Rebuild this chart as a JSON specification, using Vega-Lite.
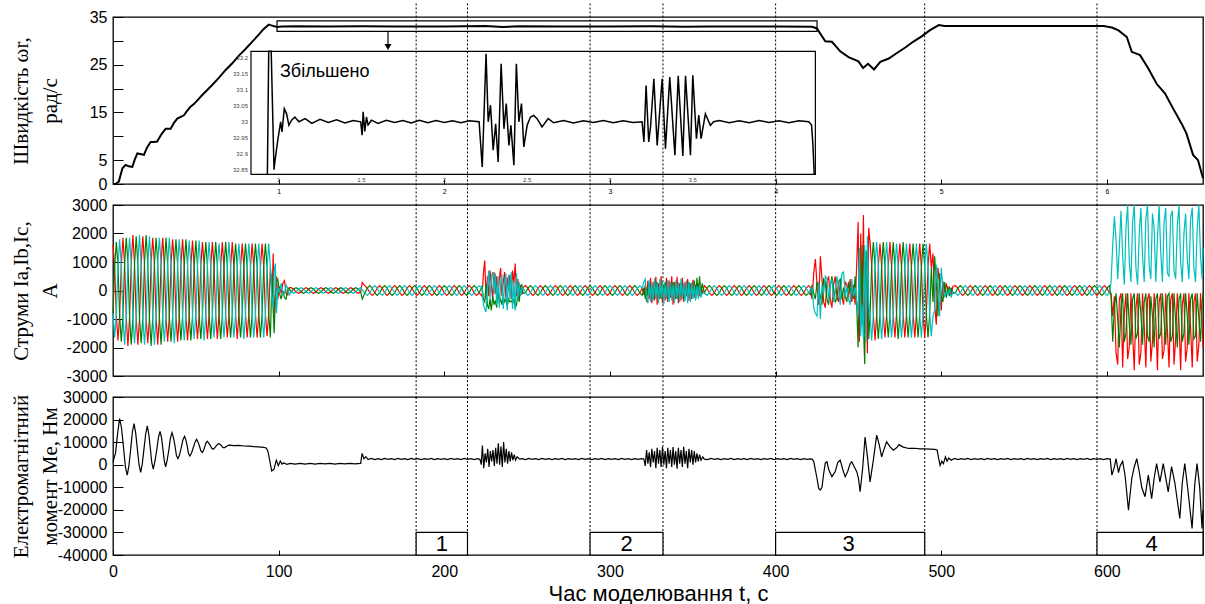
{
"$schema": "https://vega.github.io/schema/vega-lite/v6.json",
"background": "white",
"padding": {"left": 9, "top": 0, "right": 0, "bottom": 0},
"spacing": 21,
"bounds": "flush",
"config": {
  "view": {"stroke": "black", "strokeWidth": 1.3},
  "axis": {"domain": false, "grid": false, "labelOverlap": false, "labelFlush": false, "tickCount": 60, "labelFont": "Liberation Sans", "labelFontSize": 16, "labelColor": "black", "tickColor": "black", "tickWidth": 1, "titleFont": "Liberation Serif", "titleFontSize": 21, "titleFontWeight": "normal", "titleColor": "black"},
  "axisY": {"tickSize": -10, "labelPadding": 16, "titleAngle": -90, "titleX": -103, "titleBaseline": "top", "titleAlign": "center", "titleLineHeight": 29},
  "axisX": {"tickSize": -5, "labelPadding": 13}
},
"datasets": {
  "marks": [{"t":183},{"t":214},{"t":288},{"t":332},{"t":400},{"t":490},{"t":594}],
  "boxes": [{"x1":183,"x2":214,"tm":198.5,"lab":"1"},{"x1":288,"x2":332,"tm":310,"lab":"2"},{"x1":400,"x2":490,"tm":444,"lab":"3"},{"x1":594,"x2":658,"tm":627,"lab":"4"}],
  "insetY": [{"w":33.2,"lab":"33.2"},{"w":33.15,"lab":"33.15"},{"w":33.1,"lab":"33.1"},{"w":33.05,"lab":"33.05"},{"w":33,"lab":"33"},{"w":32.95,"lab":"32.95"},{"w":32.9,"lab":"32.9"},{"w":32.85,"lab":"32.85"}],
  "insetX": [{"t":100,"lab":"1"},{"t":150,"lab":"1.5"},{"t":200,"lab":"2"},{"t":250,"lab":"2.5"},{"t":300,"lab":"3"},{"t":350,"lab":"3.5"},{"t":400,"lab":"4"}],
  "notes": [{"txt":"Збільшено"}],
  "speed": [
    {"t":0,"v":0},{"t":1.5,"v":0},{"t":3.5,"v":0.5},{"t":5.7,"v":3.3},{"t":7.6,"v":4.0},{"t":9.5,"v":3.7},{"t":11.7,"v":3.6},{"t":13,"v":5},{"t":14.7,"v":6.4},{"t":16.5,"v":6.3},{"t":18.7,"v":6.1},{"t":20.5,"v":7.6},{"t":22.7,"v":8.8},{"t":24.5,"v":8.8},{"t":26.7,"v":8.9},{"t":29,"v":10.3},{"t":31.8,"v":11.6},{"t":34.8,"v":11.6},{"t":36.8,"v":12.8},{"t":38.8,"v":13.7},{"t":42.8,"v":14.4},{"t":44.5,"v":15.2},{"t":46.8,"v":16.2},{"t":49,"v":16.8},{"t":51.9,"v":17.9},{"t":54,"v":18.7},{"t":56.9,"v":19.7},{"t":60,"v":20.8},{"t":64,"v":22.3},{"t":68,"v":23.9},{"t":72,"v":25.3},{"t":76,"v":26.9},{"t":80,"v":28.3},{"t":84,"v":29.8},{"t":88,"v":31.3},{"t":91,"v":32.5},{"t":94,"v":33.4},{"t":96,"v":33.2},{"t":99,"v":32.9},{"t":102,"v":33.0},{"t":110,"v":33.05},{"t":130,"v":33.0},{"t":150,"v":33.05},{"t":170,"v":33.0},{"t":200,"v":33.0},{"t":225,"v":33.1},{"t":235,"v":32.9},{"t":245,"v":33.05},{"t":270,"v":33.0},{"t":300,"v":33.0},{"t":325,"v":33.05},{"t":345,"v":32.95},{"t":360,"v":33.0},{"t":400,"v":33.0},{"t":422,"v":32.95},{"t":425,"v":32.6},{"t":427,"v":31.5},{"t":430,"v":29.9},{"t":434,"v":29.8},{"t":439,"v":27.8},{"t":444,"v":26.6},{"t":450,"v":25.7},{"t":452.8,"v":24.3},{"t":455.8,"v":25.2},{"t":459.4,"v":24.0},{"t":463.2,"v":25.6},{"t":468.3,"v":26.3},{"t":473,"v":27.4},{"t":478.3,"v":28.6},{"t":483,"v":29.8},{"t":488.4,"v":31.0},{"t":493,"v":32.2},{"t":498.5,"v":33.3},{"t":502,"v":33.1},{"t":550,"v":33.1},{"t":598,"v":33.1},{"t":603,"v":32.8},{"t":607,"v":32.2},{"t":612,"v":30.8},{"t":615,"v":27.7},{"t":620,"v":27.0},{"t":625,"v":24.2},{"t":630,"v":21.0},{"t":635,"v":19.0},{"t":640,"v":15.8},{"t":645,"v":12.7},{"t":648,"v":10.6},{"t":652,"v":6.1},{"t":655,"v":5.0},{"t":658,"v":1.2}
  ],
  "inset": [
    {"t":93.2,"w":32.836},{"t":94,"w":33.221},{"t":95.5,"w":33.221},{"t":97.2,"w":32.85},{"t":97.6,"w":32.87},{"t":99.6,"w":32.947},{"t":100.4,"w":32.973},{"t":101.2,"w":33.0},{"t":102,"w":32.968},{"t":103.4,"w":33.041},{"t":104.8,"w":33.025},{"t":106.2,"w":32.989},{"t":107.8,"w":33.005},{"t":109.8,"w":33.015},{"t":112.2,"w":33.0},{"t":116,"w":33.01},{"t":120,"w":32.995},{"t":125,"w":33.008},{"t":130,"w":32.998},{"t":135,"w":33.006},{"t":140,"w":32.996},{"t":145,"w":33.004},{"t":149.5,"w":33.0},{"t":150.4,"w":32.958},{"t":151,"w":33.031},{"t":152,"w":32.97},{"t":153,"w":33.015},{"t":154,"w":32.99},{"t":156,"w":33.005},{"t":160,"w":32.995},{"t":165,"w":33.005},{"t":170,"w":32.998},{"t":175,"w":33.004},{"t":180,"w":32.996},{"t":185,"w":33.005},{"t":190,"w":32.997},{"t":195,"w":33.004},{"t":200,"w":32.998},{"t":205,"w":33.003},{"t":210,"w":32.997},{"t":215,"w":33.003},{"t":221,"w":33.0},
    {"t":222.9,"w":32.858},{"t":225.2,"w":33.213},{"t":226.5,"w":33.0},{"t":227.9,"w":33.052},{"t":229.5,"w":32.911},{"t":231,"w":32.994},{"t":232.5,"w":32.874},{"t":234.3,"w":33.182},{"t":236,"w":32.978},{"t":237.4,"w":33.057},{"t":239,"w":32.926},{"t":240.2,"w":32.989},{"t":242,"w":32.864},{"t":243.5,"w":33.182},{"t":245,"w":33.0},{"t":246.6,"w":33.057},{"t":248,"w":32.921},{"t":250,"w":32.989},{"t":252,"w":33.015},{"t":254,"w":33.02},{"t":256,"w":33.01},{"t":259,"w":32.984},{"t":262.7,"w":33.01},{"t":266,"w":32.997},{"t":272,"w":33.004},{"t":278,"w":32.996},{"t":284,"w":33.003},{"t":290,"w":32.998},{"t":296,"w":33.004},{"t":302,"w":32.997},{"t":308,"w":33.003},{"t":314,"w":32.998},{"t":319.4,"w":33.0},
    {"t":320.5,"w":32.937},{"t":321.8,"w":33.114},{"t":323.4,"w":32.937},{"t":324.5,"w":32.984},{"t":326.5,"w":33.135},{"t":328.5,"w":32.926},{"t":331.5,"w":33.135},{"t":333.5,"w":32.916},{"t":336.1,"w":33.14},{"t":339.2,"w":32.895},{"t":341.2,"w":33.144},{"t":344,"w":32.893},{"t":345.6,"w":33.144},{"t":348.6,"w":32.895},{"t":350,"w":33.146},{"t":352.2,"w":32.947},{"t":353.6,"w":33.021},{"t":355,"w":32.947},{"t":357.6,"w":33.025},{"t":360.6,"w":32.989},{"t":362.6,"w":33.0},{"t":366,"w":33.004},{"t":372,"w":32.997},{"t":378,"w":33.003},{"t":384,"w":32.997},{"t":390,"w":33.004},{"t":396,"w":32.998},{"t":402,"w":33.003},{"t":408,"w":32.997},{"t":414,"w":33.003},{"t":420,"w":33.0},{"t":421.7,"w":32.99},{"t":422.5,"w":32.93},{"t":423.3,"w":32.836}
  ],
  "torque": [
    {"t":0,"m":1300},{"t":1.5,"m":5000},{"t":2.8,"m":14000},{"t":4,"m":20400},{"t":5.1,"m":16500},{"t":6.3,"m":8000},{"t":7.5,"m":-1000},{"t":8.6,"m":-4600},{"t":9.6,"m":-500},{"t":10.7,"m":7000},{"t":11.7,"m":14500},{"t":12.7,"m":18200},{"t":13.7,"m":14000},{"t":14.7,"m":7000},{"t":15.7,"m":0},{"t":16.7,"m":-3400},{"t":17.7,"m":500},{"t":18.7,"m":7000},{"t":19.7,"m":13500},{"t":20.7,"m":17200},{"t":21.6,"m":13500},{"t":22.5,"m":7500},{"t":23.4,"m":1000},{"t":24.3,"m":-1900},{"t":25.3,"m":1500},{"t":26.4,"m":6500},{"t":27.4,"m":12000},{"t":28.4,"m":14800},{"t":29.3,"m":12000},{"t":30.1,"m":7000},{"t":31,"m":1500},{"t":31.8,"m":-900},{"t":32.7,"m":2000},{"t":33.7,"m":6500},{"t":34.6,"m":11500},{"t":35.6,"m":14200},{"t":36.5,"m":12000},{"t":37.4,"m":8500},{"t":38.3,"m":4000},{"t":39.2,"m":2700},{"t":40.2,"m":4500},{"t":41.2,"m":7600},{"t":42.2,"m":11000},{"t":43.2,"m":12600},{"t":44,"m":11000},{"t":44.8,"m":8200},{"t":45.6,"m":5000},{"t":46.4,"m":3900},{"t":47.4,"m":5200},{"t":48.5,"m":7600},{"t":49.5,"m":10000},{"t":50.5,"m":11300},{"t":51.3,"m":10000},{"t":52.2,"m":8300},{"t":53,"m":6200},{"t":53.9,"m":5400},{"t":54.6,"m":6200},{"t":55.4,"m":8000},{"t":56.1,"m":9600},{"t":56.9,"m":10400},{"t":57.8,"m":9600},{"t":58.7,"m":8600},{"t":59.6,"m":7300},{"t":60.5,"m":6900},{"t":61.3,"m":7400},{"t":62.2,"m":8200},{"t":63.1,"m":9000},{"t":64,"m":9400},{"t":64.7,"m":9000},{"t":65.5,"m":8400},{"t":66.2,"m":7700},{"t":67,"m":7500},{"t":67.8,"m":7800},{"t":68.7,"m":8200},{"t":69.5,"m":8600},{"t":70.4,"m":8700},{"t":73,"m":8500},{"t":76,"m":8600},{"t":79,"m":8300},{"t":82,"m":8200},{"t":85,"m":8000},{"t":88,"m":7900},{"t":91,"m":7700},{"t":92.5,"m":7400},{"t":93.5,"m":6000},{"t":94.2,"m":3500},{"t":95.8,"m":-2800},{"t":97.2,"m":-2000},{"t":98.6,"m":2000},{"t":99.8,"m":-400},{"t":101,"m":1600},{"t":102,"m":300},{"t":103,"m":800},{"t":105,"m":200},{"t":107,"m":600},{"t":110,"m":300},{"t":113,"m":600},{"t":116,"m":300},{"t":119,"m":600},{"t":122,"m":300},{"t":125,"m":600},{"t":128,"m":350},{"t":131,"m":600},{"t":134,"m":300},{"t":137,"m":600},{"t":140,"m":350},{"t":143,"m":600},{"t":146,"m":350},{"t":149.5,"m":600},{"t":150.4,"m":5000},{"t":151.5,"m":2600},{"t":152.6,"m":3600},{"t":154,"m":2300},{"t":156,"m":2800},{"t":158,"m":2300},{"t":160,"m":2700},{"t":162,"m":2300},{"t":164,"m":2800},{"t":166,"m":2400},{"t":168,"m":2700},{"t":170,"m":2300},{"t":172,"m":2800},{"t":174,"m":2400},{"t":176,"m":2700},{"t":178,"m":2300},{"t":180,"m":2800},{"t":182,"m":2400},{"t":184,"m":2700},{"t":186,"m":2300},{"t":188,"m":2700},{"t":190,"m":2400},{"t":192,"m":2800},{"t":194,"m":2300},{"t":196,"m":2700},{"t":198,"m":2400},{"t":200,"m":2700},{"t":202,"m":2300},{"t":204,"m":2800},{"t":206,"m":2400},{"t":208,"m":2700},{"t":210,"m":2300},{"t":212,"m":2800},{"t":214,"m":2400},{"t":216,"m":2700},{"t":218,"m":2300},{"t":220,"m":2700},{"t":221.5,"m":2400},
    {"t":222.3,"m":0},{"t":223,"m":8500},{"t":223.8,"m":-1500},{"t":224.6,"m":5000},{"t":225.4,"m":1000},{"t":226.2,"m":7000},{"t":227,"m":-1000},{"t":227.8,"m":6000},{"t":228.6,"m":1500},{"t":229.4,"m":6500},{"t":230.2,"m":-500},{"t":231,"m":7500},{"t":231.8,"m":500},{"t":232.6,"m":9500},{"t":233.4,"m":0},{"t":234.2,"m":8000},{"t":235,"m":-1000},{"t":235.8,"m":10000},{"t":236.6,"m":1000},{"t":237.4,"m":7000},{"t":238.2,"m":500},{"t":239,"m":6000},{"t":239.8,"m":1500},{"t":240.6,"m":5500},{"t":241.4,"m":2000},{"t":242.2,"m":4500},{"t":243,"m":2000},{"t":244,"m":3500},{"t":245.5,"m":2500},
    {"t":247,"m":2700},{"t":249,"m":2300},{"t":251,"m":2800},{"t":253,"m":2400},{"t":255,"m":2700},{"t":257,"m":2300},{"t":259,"m":2800},{"t":261,"m":2400},{"t":263,"m":2700},{"t":265,"m":2300},{"t":267,"m":2700},{"t":269,"m":2400},{"t":271,"m":2800},{"t":273,"m":2300},{"t":275,"m":2700},{"t":277,"m":2400},{"t":279,"m":2700},{"t":281,"m":2300},{"t":283,"m":2800},{"t":285,"m":2400},{"t":287,"m":2700},{"t":289,"m":2300},{"t":291,"m":2700},{"t":293,"m":2400},{"t":295,"m":2800},{"t":297,"m":2300},{"t":299,"m":2700},{"t":301,"m":2400},{"t":303,"m":2700},{"t":305,"m":2300},{"t":307,"m":2800},{"t":309,"m":2400},{"t":311,"m":2700},{"t":313,"m":2300},{"t":315,"m":2700},{"t":317,"m":2400},{"t":319,"m":2700},
    {"t":320.5,"m":2500},{"t":321.3,"m":-500},{"t":322.1,"m":6500},{"t":322.9,"m":500},{"t":323.7,"m":5500},{"t":324.5,"m":-1000},{"t":325.3,"m":7000},{"t":326.1,"m":1000},{"t":326.9,"m":6000},{"t":327.7,"m":-1500},{"t":328.5,"m":7500},{"t":329.3,"m":500},{"t":330.1,"m":6500},{"t":330.9,"m":-1000},{"t":331.7,"m":7800},{"t":332.5,"m":0},{"t":333.3,"m":6000},{"t":334.1,"m":-1500},{"t":334.9,"m":7500},{"t":335.7,"m":500},{"t":336.5,"m":6500},{"t":337.3,"m":-1000},{"t":338.1,"m":7800},{"t":338.9,"m":0},{"t":339.7,"m":6000},{"t":340.5,"m":-1800},{"t":341.3,"m":7500},{"t":342.1,"m":500},{"t":342.9,"m":6500},{"t":343.7,"m":-1000},{"t":344.5,"m":7900},{"t":345.3,"m":500},{"t":346.1,"m":6000},{"t":346.9,"m":-1500},{"t":347.7,"m":7000},{"t":348.5,"m":1000},{"t":349.3,"m":6500},{"t":350.1,"m":0},{"t":350.9,"m":6000},{"t":351.7,"m":1000},{"t":352.5,"m":5000},{"t":353.3,"m":1500},{"t":354.1,"m":4500},{"t":355,"m":2000},{"t":356,"m":3500},{"t":357,"m":2500},
    {"t":359,"m":2300},{"t":361,"m":2800},{"t":363,"m":2400},{"t":365,"m":2700},{"t":367,"m":2300},{"t":369,"m":2700},{"t":371,"m":2400},{"t":373,"m":2800},{"t":375,"m":2300},{"t":377,"m":2700},{"t":379,"m":2400},{"t":381,"m":2700},{"t":383,"m":2300},{"t":385,"m":2800},{"t":387,"m":2400},{"t":389,"m":2700},{"t":391,"m":2300},{"t":393,"m":2700},{"t":395,"m":2400},{"t":397,"m":2800},{"t":399,"m":2300},{"t":401,"m":2700},{"t":403,"m":2400},{"t":405,"m":2700},{"t":407,"m":2300},{"t":409,"m":2800},{"t":411,"m":2400},{"t":413,"m":2700},{"t":415,"m":2300},{"t":417,"m":2700},{"t":419,"m":2400},{"t":421,"m":2600},
    {"t":422,"m":2500},{"t":423,"m":1500},{"t":425,"m":-6100},{"t":426,"m":-10500},{"t":427,"m":-11200},{"t":428,"m":-10000},{"t":429,"m":-4000},{"t":430,"m":800},{"t":431,"m":1300},{"t":432,"m":-2000},{"t":434,"m":-5300},{"t":436,"m":-3000},{"t":437.5,"m":1000},{"t":439,"m":2000},{"t":440.5,"m":-2000},{"t":442,"m":-5300},{"t":443.5,"m":-3000},{"t":445,"m":500},{"t":446,"m":1300},{"t":447.5,"m":-1000},{"t":449,"m":-3100},{"t":450,"m":-6000},{"t":451,"m":-12000},{"t":452.5,"m":-2000},{"t":454,"m":12300},{"t":455.5,"m":3000},{"t":457,"m":-7600},{"t":459,"m":2000},{"t":461,"m":13100},{"t":462.5,"m":9000},{"t":464,"m":3500},{"t":465.5,"m":7000},{"t":467,"m":10100},{"t":469,"m":8000},{"t":471,"m":6400},{"t":473,"m":7500},{"t":474.5,"m":8900},{"t":477,"m":7800},{"t":480.4,"m":7200},{"t":484,"m":7300},{"t":487,"m":7000},{"t":490,"m":7000},{"t":493,"m":6900},{"t":496,"m":6800},{"t":497.5,"m":6500},{"t":498.5,"m":2500},{"t":499.3,"m":-300},{"t":500.3,"m":1500},{"t":501.3,"m":500},{"t":502.5,"m":3500},{"t":503.5,"m":1500},{"t":504.5,"m":3000},{"t":506,"m":2000},{"t":508,"m":2800},{"t":510,"m":2300},{"t":512,"m":2700},{"t":514,"m":2400},{"t":516,"m":2800},{"t":518,"m":2300},{"t":520,"m":2700},{"t":522,"m":2400},{"t":524,"m":2700},{"t":526,"m":2300},{"t":528,"m":2800},{"t":530,"m":2400},{"t":532,"m":2700},{"t":534,"m":2300},{"t":536,"m":2700},{"t":538,"m":2400},{"t":540,"m":2800},{"t":542,"m":2300},{"t":544,"m":2700},{"t":546,"m":2400},{"t":548,"m":2700},{"t":550,"m":2300},{"t":552,"m":2800},{"t":554,"m":2400},{"t":556,"m":2700},{"t":558,"m":2300},{"t":560,"m":2700},{"t":562,"m":2400},{"t":564,"m":2800},{"t":566,"m":2300},{"t":568,"m":2700},{"t":570,"m":2400},{"t":572,"m":2700},{"t":574,"m":2300},{"t":576,"m":2800},{"t":578,"m":2400},{"t":580,"m":2700},{"t":582,"m":2300},{"t":584,"m":2700},{"t":586,"m":2400},{"t":588,"m":2800},{"t":590,"m":2300},{"t":592,"m":2700},{"t":594,"m":2400},{"t":596,"m":2700},{"t":598,"m":2300},{"t":600,"m":2700},
    {"t":602,"m":2500},{"t":603,"m":-4600},{"t":604.5,"m":-1000},{"t":605.5,"m":2700},{"t":607,"m":-3500},{"t":608,"m":-500},{"t":609.5,"m":1500},{"t":611,"m":-5000},{"t":613,"m":-20100},{"t":615,"m":-6100},{"t":616.5,"m":-1000},{"t":618,"m":2700},{"t":619.5,"m":-3000},{"t":621,"m":-10000},{"t":623,"m":-14200},{"t":625,"m":-4600},{"t":627,"m":-15000},{"t":628.5,"m":-6000},{"t":630,"m":500},{"t":632,"m":-7600},{"t":634,"m":500},{"t":637,"m":-12000},{"t":639,"m":-900},{"t":641,"m":-8000},{"t":644,"m":-23800},{"t":645.5,"m":-8000},{"t":647,"m":500},{"t":649,"m":-12000},{"t":651.4,"m":-28200},{"t":653,"m":-9000},{"t":654.4,"m":500},{"t":656,"m":-10000},{"t":657.4,"m":-28200},{"t":658,"m":-20000}
  ],
  "cur": [
    {"t":0,"a":1600,"b":-800,"c":-800},{"t":1,"a":825,"b":825,"c":-1650},{"t":2,"a":-850,"b":1700,"c":-850},{"t":3,"a":-1750,"b":875,"c":875},{"t":4,"a":-900,"b":-900,"c":1800},{"t":5,"a":900,"b":-1800,"c":900},
    {"t":6,"a":1850,"b":-925,"c":-925},{"t":7,"a":950,"b":950,"c":-1900},{"t":8,"a":-925,"b":1850,"c":-925},{"t":9,"a":-1950,"b":975,"c":975},{"t":10,"a":-925,"b":-925,"c":1850},{"t":11,"a":950,"b":-1900,"c":950},
    {"t":12,"a":1950,"b":-975,"c":-975},{"t":13,"a":925,"b":925,"c":-1850},{"t":14,"a":-950,"b":1900,"c":-950},{"t":15,"a":-1900,"b":950,"c":950},{"t":16,"a":-975,"b":-975,"c":1950},{"t":17,"a":925,"b":-1850,"c":925},
    {"t":18,"a":1900,"b":-950,"c":-950},{"t":19,"a":950,"b":950,"c":-1900},{"t":20,"a":-975,"b":1950,"c":-975},{"t":21,"a":-1850,"b":925,"c":925},{"t":22,"a":-950,"b":-950,"c":1900},{"t":23,"a":975,"b":-1950,"c":975},
    {"t":24,"a":1850,"b":-925,"c":-925},{"t":25,"a":950,"b":950,"c":-1900},{"t":26,"a":-925,"b":1850,"c":-925},{"t":27,"a":-1900,"b":950,"c":950},{"t":28,"a":-925,"b":-925,"c":1850},{"t":29,"a":950,"b":-1900,"c":950},
    {"t":30,"a":1850,"b":-925,"c":-925},{"t":31,"a":900,"b":900,"c":-1800},{"t":32,"a":-925,"b":1850,"c":-925},{"t":33,"a":-1800,"b":900,"c":900},{"t":34,"a":-925,"b":-925,"c":1850},{"t":35,"a":900,"b":-1800,"c":900},
    {"t":36,"a":1800,"b":-900,"c":-900},{"t":37,"a":925,"b":925,"c":-1850},{"t":38,"a":-900,"b":1800,"c":-900},{"t":39,"a":-1800,"b":900,"c":900},{"t":40,"a":-900,"b":-900,"c":1800},{"t":41,"a":875,"b":-1750,"c":875},
    {"t":42,"a":1800,"b":-900,"c":-900},{"t":43,"a":875,"b":875,"c":-1750},{"t":44,"a":-900,"b":1800,"c":-900},{"t":45,"a":-1750,"b":875,"c":875},{"t":46,"a":-875,"b":-875,"c":1750},{"t":47,"a":875,"b":-1750,"c":875},
    {"t":48,"a":1750,"b":-875,"c":-875},{"t":49,"a":850,"b":850,"c":-1700},{"t":50,"a":-875,"b":1750,"c":-875},{"t":51,"a":-1700,"b":850,"c":850},{"t":52,"a":-875,"b":-875,"c":1750},{"t":53,"a":850,"b":-1700,"c":850},
    {"t":54,"a":1700,"b":-850,"c":-850},{"t":55,"a":875,"b":875,"c":-1750},{"t":56,"a":-850,"b":1700,"c":-850},{"t":57,"a":-1700,"b":850,"c":850},{"t":58,"a":-850,"b":-850,"c":1700},{"t":59,"a":850,"b":-1700,"c":850},
    {"t":60,"a":1700,"b":-850,"c":-850},{"t":61,"a":825,"b":825,"c":-1650},{"t":62,"a":-850,"b":1700,"c":-850},{"t":63,"a":-1700,"b":850,"c":850},{"t":64,"a":-825,"b":-825,"c":1650},{"t":65,"a":850,"b":-1700,"c":850},
    {"t":66,"a":1700,"b":-850,"c":-850},{"t":67,"a":825,"b":825,"c":-1650},{"t":68,"a":-850,"b":1700,"c":-850},{"t":69,"a":-1650,"b":825,"c":825},{"t":70,"a":-850,"b":-850,"c":1700},{"t":71,"a":825,"b":-1650,"c":825},
    {"t":72,"a":1700,"b":-850,"c":-850},{"t":73,"a":825,"b":825,"c":-1650},{"t":74,"a":-825,"b":1650,"c":-825},{"t":75,"a":-1700,"b":850,"c":850},{"t":76,"a":-825,"b":-825,"c":1650},{"t":77,"a":825,"b":-1650,"c":825},
    {"t":78,"a":1650,"b":-825,"c":-825},{"t":79,"a":850,"b":850,"c":-1700},{"t":80,"a":-825,"b":1650,"c":-825},{"t":81,"a":-1650,"b":825,"c":825},{"t":82,"a":-825,"b":-825,"c":1650},{"t":83,"a":825,"b":-1650,"c":825},
    {"t":84,"a":1650,"b":-825,"c":-825},{"t":85,"a":825,"b":825,"c":-1650},{"t":86,"a":-825,"b":1650,"c":-825},{"t":87,"a":-1650,"b":825,"c":825},{"t":88,"a":-825,"b":-825,"c":1650},{"t":89,"a":825,"b":-1650,"c":825},
    {"t":90,"a":1650,"b":-825,"c":-825},{"t":91,"a":825,"b":825,"c":-1650},{"t":92,"a":-825,"b":1650,"c":-825},{"t":93,"a":-1600,"b":800,"c":800},{"t":94,"a":-825,"b":-825,"c":1650},{"t":95,"a":825,"b":-1650,"c":825},
    {"t":96,"a":-200,"b":600,"c":-400},{"t":96.7,"a":1300,"b":-700,"c":-600},{"t":97.3,"a":-900,"b":-1500,"c":700},{"t":98,"a":-300,"b":-200,"c":950},{"t":98.7,"a":500,"b":300,"c":-800},{"t":99.5,"a":-300,"b":400,"c":100},{"t":100.5,"a":150,"b":-100,"c":-50},{"t":101.5,"a":-100,"b":-300,"c":250},{"t":102.5,"a":250,"b":0,"c":-150},{"t":103.5,"a":350,"b":-250,"c":-100},{"t":104.5,"a":-100,"b":-300,"c":200},{"t":105.5,"a":-150,"b":100,"c":50},{"t":106.5,"a":100,"b":50,"c":-150},
    {"t":107.5,"a":100,"b":-50,"c":-50},{"t":109,"a":50,"b":50,"c":-100},{"t":110.5,"a":-50,"b":100,"c":-50},{"t":112,"a":-100,"b":50,"c":50},{"t":113.5,"a":-50,"b":-50,"c":100},{"t":115,"a":50,"b":-100,"c":50},
    {"t":116.5,"a":100,"b":-50,"c":-50},{"t":118,"a":50,"b":50,"c":-100},{"t":119.5,"a":-50,"b":100,"c":-50},{"t":121,"a":-100,"b":50,"c":50},{"t":122.5,"a":-50,"b":-50,"c":100},{"t":124,"a":50,"b":-100,"c":50},
    {"t":125.5,"a":100,"b":-50,"c":-50},{"t":127,"a":50,"b":50,"c":-100},{"t":128.5,"a":-50,"b":100,"c":-50},{"t":130,"a":-100,"b":50,"c":50},{"t":131.5,"a":-50,"b":-50,"c":100},{"t":133,"a":50,"b":-100,"c":50},
    {"t":134.5,"a":100,"b":-50,"c":-50},{"t":136,"a":50,"b":50,"c":-100},{"t":137.5,"a":-50,"b":100,"c":-50},{"t":139,"a":-100,"b":50,"c":50},{"t":140.5,"a":-50,"b":-50,"c":100},{"t":142,"a":50,"b":-100,"c":50},
    {"t":143.5,"a":100,"b":-50,"c":-50},{"t":145,"a":50,"b":50,"c":-100},{"t":146.5,"a":-50,"b":100,"c":-50},{"t":148,"a":-100,"b":50,"c":50},{"t":149.5,"a":-50,"b":-50,"c":100},
    {"t":150.5,"a":280,"b":-300,"c":20},
    {"t":152,"a":170,"b":-85,"c":-85},{"t":153.5,"a":85,"b":85,"c":-170},{"t":155,"a":-85,"b":170,"c":-85},{"t":156.5,"a":-170,"b":85,"c":85},{"t":158,"a":-85,"b":-85,"c":170},{"t":159.5,"a":85,"b":-170,"c":85},
    {"t":161,"a":170,"b":-85,"c":-85},{"t":162.5,"a":85,"b":85,"c":-170},{"t":164,"a":-85,"b":170,"c":-85},{"t":165.5,"a":-170,"b":85,"c":85},{"t":167,"a":-85,"b":-85,"c":170},{"t":168.5,"a":85,"b":-170,"c":85},
    {"t":170,"a":170,"b":-85,"c":-85},{"t":171.5,"a":85,"b":85,"c":-170},{"t":173,"a":-85,"b":170,"c":-85},{"t":174.5,"a":-170,"b":85,"c":85},{"t":176,"a":-85,"b":-85,"c":170},{"t":177.5,"a":85,"b":-170,"c":85},
    {"t":179,"a":170,"b":-85,"c":-85},{"t":180.5,"a":85,"b":85,"c":-170},{"t":182,"a":-85,"b":170,"c":-85},{"t":183.5,"a":-170,"b":85,"c":85},{"t":185,"a":-85,"b":-85,"c":170},{"t":186.5,"a":85,"b":-170,"c":85},
    {"t":188,"a":170,"b":-85,"c":-85},{"t":189.5,"a":85,"b":85,"c":-170},{"t":191,"a":-85,"b":170,"c":-85},{"t":192.5,"a":-170,"b":85,"c":85},{"t":194,"a":-85,"b":-85,"c":170},{"t":195.5,"a":85,"b":-170,"c":85},
    {"t":197,"a":170,"b":-85,"c":-85},{"t":198.5,"a":85,"b":85,"c":-170},{"t":200,"a":-85,"b":170,"c":-85},{"t":201.5,"a":-170,"b":85,"c":85},{"t":203,"a":-85,"b":-85,"c":170},{"t":204.5,"a":85,"b":-170,"c":85},
    {"t":206,"a":170,"b":-85,"c":-85},{"t":207.5,"a":85,"b":85,"c":-170},{"t":209,"a":-85,"b":170,"c":-85},{"t":210.5,"a":-170,"b":85,"c":85},{"t":212,"a":-85,"b":-85,"c":170},{"t":213.5,"a":85,"b":-170,"c":85},
    {"t":215,"a":170,"b":-85,"c":-85},{"t":216.5,"a":85,"b":85,"c":-170},{"t":218,"a":-85,"b":170,"c":-85},{"t":219.5,"a":-170,"b":85,"c":85},{"t":221,"a":-85,"b":-85,"c":170},
    {"t":222.8,"a":-200,"b":150,"c":100},{"t":223.6,"a":600,"b":-300,"c":-500},{"t":224.4,"a":1050,"b":-400,"c":-650},{"t":225.2,"a":-300,"b":200,"c":-750},{"t":226,"a":500,"b":-500,"c":100},{"t":226.8,"a":-200,"b":-650,"c":700},{"t":227.6,"a":700,"b":-300,"c":-300},{"t":228.4,"a":200,"b":-700,"c":500},{"t":229.2,"a":-300,"b":-200,"c":650},{"t":230,"a":650,"b":-500,"c":-150},{"t":230.8,"a":-100,"b":-350,"c":600},{"t":231.6,"a":500,"b":-600,"c":-500},{"t":232.4,"a":-300,"b":100,"c":500},{"t":233.2,"a":400,"b":-450,"c":-600},{"t":234,"a":800,"b":-300,"c":200},{"t":234.8,"a":-200,"b":-500,"c":550},{"t":235.6,"a":300,"b":-200,"c":-650},{"t":236.4,"a":650,"b":-400,"c":300},{"t":237.2,"a":-250,"b":-300,"c":600},{"t":238,"a":450,"b":-550,"c":-700},{"t":238.8,"a":0,"b":-300,"c":550},{"t":239.6,"a":550,"b":-400,"c":-300},{"t":240.4,"a":-300,"b":-350,"c":650},{"t":241.2,"a":700,"b":-450,"c":-650},{"t":242,"a":250,"b":-300,"c":350},{"t":242.8,"a":950,"b":-600,"c":-700},{"t":243.6,"a":-200,"b":-500,"c":600},{"t":244.4,"a":400,"b":-100,"c":-300},{"t":245.2,"a":-150,"b":-400,"c":300},{"t":246,"a":200,"b":150,"c":-200},{"t":246.8,"a":-150,"b":200,"c":50},{"t":247.5,"a":100,"b":-100,"c":100},
    {"t":249,"a":170,"b":-85,"c":-85},{"t":250.5,"a":85,"b":85,"c":-170},{"t":252,"a":-85,"b":170,"c":-85},{"t":253.5,"a":-170,"b":85,"c":85},{"t":255,"a":-85,"b":-85,"c":170},{"t":256.5,"a":85,"b":-170,"c":85},
    {"t":258,"a":170,"b":-85,"c":-85},{"t":259.5,"a":85,"b":85,"c":-170},{"t":261,"a":-85,"b":170,"c":-85},{"t":262.5,"a":-170,"b":85,"c":85},{"t":264,"a":-85,"b":-85,"c":170},{"t":265.5,"a":85,"b":-170,"c":85},
    {"t":267,"a":170,"b":-85,"c":-85},{"t":268.5,"a":85,"b":85,"c":-170},{"t":270,"a":-85,"b":170,"c":-85},{"t":271.5,"a":-170,"b":85,"c":85},{"t":273,"a":-85,"b":-85,"c":170},{"t":274.5,"a":85,"b":-170,"c":85},
    {"t":276,"a":170,"b":-85,"c":-85},{"t":277.5,"a":85,"b":85,"c":-170},{"t":279,"a":-85,"b":170,"c":-85},{"t":280.5,"a":-170,"b":85,"c":85},{"t":282,"a":-85,"b":-85,"c":170},{"t":283.5,"a":85,"b":-170,"c":85},
    {"t":285,"a":170,"b":-85,"c":-85},{"t":286.5,"a":85,"b":85,"c":-170},{"t":288,"a":-85,"b":170,"c":-85},{"t":289.5,"a":-170,"b":85,"c":85},{"t":291,"a":-85,"b":-85,"c":170},{"t":292.5,"a":85,"b":-170,"c":85},
    {"t":294,"a":170,"b":-85,"c":-85},{"t":295.5,"a":85,"b":85,"c":-170},{"t":297,"a":-85,"b":170,"c":-85},{"t":298.5,"a":-170,"b":85,"c":85},{"t":300,"a":-85,"b":-85,"c":170},{"t":301.5,"a":85,"b":-170,"c":85},
    {"t":303,"a":170,"b":-85,"c":-85},{"t":304.5,"a":85,"b":85,"c":-170},{"t":306,"a":-85,"b":170,"c":-85},{"t":307.5,"a":-170,"b":85,"c":85},{"t":309,"a":-85,"b":-85,"c":170},{"t":310.5,"a":85,"b":-170,"c":85},
    {"t":312,"a":170,"b":-85,"c":-85},{"t":313.5,"a":85,"b":85,"c":-170},{"t":315,"a":-85,"b":170,"c":-85},{"t":316.5,"a":-170,"b":85,"c":85},{"t":318,"a":-85,"b":-85,"c":170},{"t":319.5,"a":85,"b":-170,"c":85},
    {"t":320.5,"a":-150,"b":100,"c":300},{"t":321.3,"a":200,"b":-300,"c":400},{"t":322.1,"a":-400,"b":100,"c":-250},{"t":322.9,"a":350,"b":-200,"c":-450},{"t":323.7,"a":-300,"b":250,"c":350},{"t":324.5,"a":450,"b":-100,"c":-400},{"t":325.3,"a":-450,"b":200,"c":300},{"t":326.1,"a":300,"b":-300,"c":-350},{"t":326.9,"a":-350,"b":150,"c":420},{"t":327.7,"a":480,"b":-250,"c":-300},{"t":328.5,"a":-500,"b":300,"c":250},{"t":329.3,"a":250,"b":-200,"c":-450},{"t":330.1,"a":-300,"b":100,"c":400},{"t":330.9,"a":500,"b":-300,"c":-250},{"t":331.7,"a":-450,"b":250,"c":350},{"t":332.5,"a":200,"b":-150,"c":-480},{"t":333.3,"a":-350,"b":300,"c":200},{"t":334.1,"a":450,"b":-250,"c":-300},{"t":334.9,"a":-400,"b":150,"c":380},{"t":335.7,"a":350,"b":-300,"c":-400},{"t":336.5,"a":-250,"b":200,"c":300},{"t":337.3,"a":500,"b":-200,"c":-350},{"t":338.1,"a":-500,"b":300,"c":200},{"t":338.9,"a":300,"b":-150,"c":-450},{"t":339.7,"a":-300,"b":250,"c":350},{"t":340.5,"a":480,"b":-300,"c":-250},{"t":341.3,"a":-450,"b":200,"c":300},{"t":342.1,"a":250,"b":-250,"c":-400},{"t":342.9,"a":-350,"b":300,"c":420},{"t":343.7,"a":450,"b":-200,"c":-300},{"t":344.5,"a":-400,"b":150,"c":250},{"t":345.3,"a":300,"b":-300,"c":-380},{"t":346.1,"a":-200,"b":200,"c":350},{"t":346.9,"a":400,"b":-250,"c":-450},{"t":347.7,"a":-350,"b":300,"c":300},{"t":348.5,"a":250,"b":-150,"c":-400},{"t":349.3,"a":-300,"b":250,"c":280},{"t":350.1,"a":380,"b":-200,"c":-300},{"t":350.9,"a":-250,"b":350,"c":200},{"t":351.7,"a":200,"b":-300,"c":-350},{"t":352.5,"a":-150,"b":450,"c":150},{"t":353.3,"a":250,"b":-200,"c":-300},{"t":354.1,"a":-200,"b":500,"c":200},{"t":354.9,"a":150,"b":-150,"c":-250},{"t":355.7,"a":-100,"b":250,"c":-100},
    {"t":357,"a":170,"b":-85,"c":-85},{"t":358.5,"a":85,"b":85,"c":-170},{"t":360,"a":-85,"b":170,"c":-85},{"t":361.5,"a":-170,"b":85,"c":85},{"t":363,"a":-85,"b":-85,"c":170},{"t":364.5,"a":85,"b":-170,"c":85},
    {"t":366,"a":170,"b":-85,"c":-85},{"t":367.5,"a":85,"b":85,"c":-170},{"t":369,"a":-85,"b":170,"c":-85},{"t":370.5,"a":-170,"b":85,"c":85},{"t":372,"a":-85,"b":-85,"c":170},{"t":373.5,"a":85,"b":-170,"c":85},
    {"t":375,"a":170,"b":-85,"c":-85},{"t":376.5,"a":85,"b":85,"c":-170},{"t":378,"a":-85,"b":170,"c":-85},{"t":379.5,"a":-170,"b":85,"c":85},{"t":381,"a":-85,"b":-85,"c":170},{"t":382.5,"a":85,"b":-170,"c":85},
    {"t":384,"a":170,"b":-85,"c":-85},{"t":385.5,"a":85,"b":85,"c":-170},{"t":387,"a":-85,"b":170,"c":-85},{"t":388.5,"a":-170,"b":85,"c":85},{"t":390,"a":-85,"b":-85,"c":170},{"t":391.5,"a":85,"b":-170,"c":85},
    {"t":393,"a":170,"b":-85,"c":-85},{"t":394.5,"a":85,"b":85,"c":-170},{"t":396,"a":-85,"b":170,"c":-85},{"t":397.5,"a":-170,"b":85,"c":85},{"t":399,"a":-85,"b":-85,"c":170},{"t":400.5,"a":85,"b":-170,"c":85},
    {"t":402,"a":170,"b":-85,"c":-85},{"t":403.5,"a":85,"b":85,"c":-170},{"t":405,"a":-85,"b":170,"c":-85},{"t":406.5,"a":-170,"b":85,"c":85},{"t":408,"a":-85,"b":-85,"c":170},{"t":409.5,"a":85,"b":-170,"c":85},
    {"t":411,"a":170,"b":-85,"c":-85},{"t":412.5,"a":85,"b":85,"c":-170},{"t":414,"a":-85,"b":170,"c":-85},{"t":415.5,"a":-170,"b":85,"c":85},{"t":417,"a":-85,"b":-85,"c":170},{"t":418.5,"a":85,"b":-170,"c":85},{"t":420,"a":170,"b":-85,"c":-85},
    {"t":421,"a":100,"b":-150,"c":50},{"t":422,"a":-300,"b":200,"c":100},{"t":423,"a":600,"b":-100,"c":-600},{"t":424,"a":1100,"b":-300,"c":-800},{"t":425,"a":200,"b":300,"c":-900},{"t":426,"a":-500,"b":100,"c":300},{"t":427,"a":1200,"b":-200,"c":-1000},{"t":428,"a":400,"b":-500,"c":200},{"t":429,"a":-400,"b":400,"c":-100},{"t":430,"a":-600,"b":300,"c":500},{"t":431,"a":300,"b":-300,"c":400},{"t":432,"a":500,"b":-500,"c":-300},{"t":433,"a":-300,"b":200,"c":200},{"t":434,"a":-600,"b":500,"c":400},{"t":435,"a":200,"b":100,"c":-400},{"t":436,"a":500,"b":-400,"c":-100},{"t":437,"a":-200,"b":-300,"c":500},{"t":438,"a":-400,"b":300,"c":100},{"t":439,"a":300,"b":400,"c":-500},{"t":440,"a":-200,"b":-300,"c":600},{"t":441,"a":-500,"b":100,"c":650},{"t":442,"a":300,"b":-200,"c":-200},{"t":443,"a":200,"b":-400,"c":100},{"t":444,"a":-300,"b":300,"c":-300},{"t":445,"a":400,"b":-100,"c":-500},{"t":446,"a":-400,"b":200,"c":400},{"t":447,"a":200,"b":-300,"c":-200},{"t":448,"a":-500,"b":500,"c":100},{"t":449,"a":1000,"b":-600,"c":-400},{"t":449.8,"a":2400,"b":-2000,"c":-900},{"t":450.6,"a":-1800,"b":1000,"c":1500},{"t":451.4,"a":2000,"b":-800,"c":-1600},{"t":452.2,"a":-1200,"b":1600,"c":-500},{"t":453,"a":2650,"b":-1200,"c":-1700},{"t":453.8,"a":-1500,"b":-2590,"c":1600},{"t":454.6,"a":1000,"b":1400,"c":-1800},{"t":455.4,"a":-2200,"b":800,"c":1900},{"t":456.2,"a":2200,"b":-1700,"c":-400},
    {"t":457,"a":1700,"b":-850,"c":-850},{"t":458,"a":875,"b":875,"c":-1750},{"t":459,"a":-850,"b":1700,"c":-850},{"t":460,"a":-1750,"b":875,"c":875},{"t":461,"a":-850,"b":-850,"c":1700},{"t":462,"a":850,"b":-1700,"c":850},
    {"t":463,"a":1650,"b":-825,"c":-825},{"t":464,"a":850,"b":850,"c":-1700},{"t":465,"a":-850,"b":1700,"c":-850},{"t":466,"a":-1650,"b":825,"c":825},{"t":467,"a":-850,"b":-850,"c":1700},{"t":468,"a":825,"b":-1650,"c":825},
    {"t":469,"a":1700,"b":-850,"c":-850},{"t":470,"a":825,"b":825,"c":-1650},{"t":471,"a":-850,"b":1700,"c":-850},{"t":472,"a":-1650,"b":825,"c":825},{"t":473,"a":-825,"b":-825,"c":1650},{"t":474,"a":850,"b":-1700,"c":850},
    {"t":475,"a":1650,"b":-825,"c":-825},{"t":476,"a":825,"b":825,"c":-1650},{"t":477,"a":-850,"b":1700,"c":-850},{"t":478,"a":-1650,"b":825,"c":825},{"t":479,"a":-825,"b":-825,"c":1650},{"t":480,"a":825,"b":-1650,"c":825},
    {"t":481,"a":1650,"b":-825,"c":-825},{"t":482,"a":825,"b":825,"c":-1650},{"t":483,"a":-825,"b":1650,"c":-825},{"t":484,"a":-1650,"b":825,"c":825},{"t":485,"a":-825,"b":-825,"c":1650},{"t":486,"a":825,"b":-1650,"c":825},
    {"t":487,"a":1650,"b":-825,"c":-825},{"t":488,"a":825,"b":825,"c":-1650},{"t":489,"a":-825,"b":1650,"c":-825},{"t":490,"a":-1650,"b":825,"c":825},{"t":491,"a":-825,"b":-825,"c":1650},{"t":492,"a":825,"b":-1650,"c":825},
    {"t":493,"a":1650,"b":-825,"c":-825},{"t":494,"a":800,"b":800,"c":-1600},
    {"t":495,"a":1300,"b":-400,"c":-900},{"t":496,"a":-500,"b":1200,"c":-700},{"t":497,"a":-1200,"b":300,"c":900},{"t":498,"a":800,"b":-900,"c":100},{"t":499,"a":300,"b":600,"c":-900},{"t":500,"a":-700,"b":-200,"c":800},{"t":501,"a":330,"b":-400,"c":100},{"t":502,"a":-100,"b":300,"c":-200},{"t":503,"a":250,"b":-250,"c":-50},{"t":504,"a":-50,"b":150,"c":-150},{"t":505,"a":100,"b":-200,"c":50},{"t":506,"a":-150,"b":100,"c":-250},{"t":507,"a":150,"b":-100,"c":-50},
    {"t":508.5,"a":170,"b":-85,"c":-85},{"t":510,"a":85,"b":85,"c":-170},{"t":511.5,"a":-85,"b":170,"c":-85},{"t":513,"a":-170,"b":85,"c":85},{"t":514.5,"a":-85,"b":-85,"c":170},{"t":516,"a":85,"b":-170,"c":85},
    {"t":517.5,"a":170,"b":-85,"c":-85},{"t":519,"a":85,"b":85,"c":-170},{"t":520.5,"a":-85,"b":170,"c":-85},{"t":522,"a":-170,"b":85,"c":85},{"t":523.5,"a":-85,"b":-85,"c":170},{"t":525,"a":85,"b":-170,"c":85},
    {"t":526.5,"a":170,"b":-85,"c":-85},{"t":528,"a":85,"b":85,"c":-170},{"t":529.5,"a":-85,"b":170,"c":-85},{"t":531,"a":-170,"b":85,"c":85},{"t":532.5,"a":-85,"b":-85,"c":170},{"t":534,"a":85,"b":-170,"c":85},
    {"t":535.5,"a":170,"b":-85,"c":-85},{"t":537,"a":85,"b":85,"c":-170},{"t":538.5,"a":-85,"b":170,"c":-85},{"t":540,"a":-170,"b":85,"c":85},{"t":541.5,"a":-85,"b":-85,"c":170},{"t":543,"a":85,"b":-170,"c":85},
    {"t":544.5,"a":170,"b":-85,"c":-85},{"t":546,"a":85,"b":85,"c":-170},{"t":547.5,"a":-85,"b":170,"c":-85},{"t":549,"a":-170,"b":85,"c":85},{"t":550.5,"a":-85,"b":-85,"c":170},{"t":552,"a":85,"b":-170,"c":85},
    {"t":553.5,"a":170,"b":-85,"c":-85},{"t":555,"a":85,"b":85,"c":-170},{"t":556.5,"a":-85,"b":170,"c":-85},{"t":558,"a":-170,"b":85,"c":85},{"t":559.5,"a":-85,"b":-85,"c":170},{"t":561,"a":85,"b":-170,"c":85},
    {"t":562.5,"a":170,"b":-85,"c":-85},{"t":564,"a":85,"b":85,"c":-170},{"t":565.5,"a":-85,"b":170,"c":-85},{"t":567,"a":-170,"b":85,"c":85},{"t":568.5,"a":-85,"b":-85,"c":170},{"t":570,"a":85,"b":-170,"c":85},
    {"t":571.5,"a":170,"b":-85,"c":-85},{"t":573,"a":85,"b":85,"c":-170},{"t":574.5,"a":-85,"b":170,"c":-85},{"t":576,"a":-170,"b":85,"c":85},{"t":577.5,"a":-85,"b":-85,"c":170},{"t":579,"a":85,"b":-170,"c":85},
    {"t":580.5,"a":170,"b":-85,"c":-85},{"t":582,"a":85,"b":85,"c":-170},{"t":583.5,"a":-85,"b":170,"c":-85},{"t":585,"a":-170,"b":85,"c":85},{"t":586.5,"a":-85,"b":-85,"c":170},{"t":588,"a":85,"b":-170,"c":85},
    {"t":589.5,"a":170,"b":-85,"c":-85},{"t":591,"a":85,"b":85,"c":-170},{"t":592.5,"a":-85,"b":170,"c":-85},{"t":594,"a":-170,"b":85,"c":85},{"t":595.5,"a":-85,"b":-85,"c":170},{"t":597,"a":85,"b":-170,"c":85},
    {"t":598.5,"a":170,"b":-85,"c":-85},{"t":600,"a":85,"b":85,"c":-170},{"t":601.5,"a":-85,"b":170,"c":-85},
    {"t":602.5,"a":-100,"b":-200,"c":300},{"t":603.5,"a":-900,"b":-1800,"c":1600},{"t":604.5,"a":-200,"b":-600,"c":2600},{"t":605.5,"a":-2200,"b":-100,"c":1800},{"t":606.5,"a":-2600,"b":-1000,"c":400},{"t":607.5,"a":-300,"b":-2000,"c":1500},{"t":608.5,"a":-100,"b":-600,"c":2800},{"t":609.5,"a":-2700,"b":-100,"c":1200},{"t":610.5,"a":-800,"b":-1800,"c":200},{"t":611.5,"a":-100,"b":-1500,"c":2200},{"t":612.5,"a":-2400,"b":-100,"c":3000},{"t":613.5,"a":-2000,"b":-1200,"c":1000},{"t":614.5,"a":-100,"b":-1900,"c":300},{"t":615.5,"a":-1500,"b":-300,"c":2400},{"t":616.5,"a":-2800,"b":-100,"c":3000},{"t":617.5,"a":-600,"b":-1700,"c":800},{"t":618.5,"a":-100,"b":-1500,"c":200},{"t":619.5,"a":-2600,"b":-100,"c":2000},{"t":620.5,"a":-2200,"b":-800,"c":2900},{"t":621.5,"a":-100,"b":-1900,"c":1200},{"t":622.5,"a":-1200,"b":-400,"c":300},{"t":623.5,"a":-2700,"b":-100,"c":2500},{"t":624.5,"a":-300,"b":-1600,"c":3000},{"t":625.5,"a":-100,"b":-1800,"c":900},{"t":626.5,"a":-2500,"b":-200,"c":400},{"t":627.5,"a":-1800,"b":-900,"c":2700},{"t":628.5,"a":-100,"b":-2000,"c":2200},{"t":629.5,"a":-1000,"b":-300,"c":300},{"t":630.5,"a":-2800,"b":-100,"c":1800},{"t":631.5,"a":-400,"b":-1700,"c":3000},{"t":632.5,"a":-100,"b":-1500,"c":1300},{"t":633.5,"a":-2400,"b":-100,"c":300},{"t":634.5,"a":-2100,"b":-1000,"c":2400},{"t":635.5,"a":-100,"b":-1900,"c":2900},{"t":636.5,"a":-1400,"b":-200,"c":600},{"t":637.5,"a":-2700,"b":-100,"c":500},{"t":638.5,"a":-300,"b":-1800,"c":2600},{"t":639.5,"a":-100,"b":-1600,"c":2800},{"t":640.5,"a":-2600,"b":-100,"c":700},{"t":641.5,"a":-1700,"b":-1100,"c":400},{"t":642.5,"a":-100,"b":-2000,"c":2300},{"t":643.5,"a":-1100,"b":-300,"c":3000},{"t":644.5,"a":-2800,"b":-100,"c":1000},{"t":645.5,"a":-500,"b":-1800,"c":300},{"t":646.5,"a":-100,"b":-1500,"c":2000},{"t":647.5,"a":-2500,"b":-100,"c":2700},{"t":648.5,"a":-2000,"b":-900,"c":1100},{"t":649.5,"a":-100,"b":-1900,"c":400},{"t":650.5,"a":-1300,"b":-300,"c":2500},{"t":651.5,"a":-2700,"b":-100,"c":2900},{"t":652.5,"a":-400,"b":-1700,"c":800},{"t":653.5,"a":-100,"b":-1600,"c":300},{"t":654.5,"a":-2500,"b":-100,"c":2200},{"t":655.5,"a":-1900,"b":-1000,"c":3000},{"t":656.5,"a":-100,"b":-1800,"c":1200},{"t":657.5,"a":-1200,"b":-400,"c":400},{"t":658,"a":-2000,"b":-100,"c":1500}
  ]
},
"vconcat": [
  {
    "width": 1090, "height": 167,
    "layer": [
      {
        "layer": [
          {"data": {"name": "marks"}, "mark": {"type": "rule", "color": "black", "strokeWidth": 1, "strokeDash": [2, 2]},
           "encoding": {
             "x": {"field": "t", "type": "quantitative", "scale": {"domain": [0, 658], "nice": false, "zero": false},
                   "axis": {"values": [100, 200, 300, 400, 500, 600], "tickCount": 60, "labelExpr": "'' + datum.value / 100", "labelFontSize": 7, "labelPadding": 8, "title": null}},
             "y": {"datum": -4.5, "type": "quantitative", "scale": {"domain": [0, 35], "nice": false},
                   "axis": {"values": [0, 5, 10, 15, 20, 25, 30, 35], "tickCount": 60, "labelExpr": "(datum.value == 10 || datum.value == 20 || datum.value == 30) ? '' : '' + datum.value", "title": ["Швидкість ωr,", "рад/с"]}},
             "y2": {"datum": 38.2}}},
          {"data": {"name": "speed"}, "mark": {"type": "line", "color": "black", "strokeWidth": 2},
           "encoding": {"x": {"field": "t", "type": "quantitative"}, "y": {"field": "v", "type": "quantitative"}}},
          {"data": {"name": "notes"}, "mark": {"type": "rect", "fillOpacity": 0, "stroke": "black", "strokeWidth": 1.2},
           "encoding": {"x": {"datum": 99}, "x2": {"datum": 425}, "y": {"datum": 32.0}, "y2": {"datum": 34.2}}},
          {"data": {"name": "notes"}, "mark": {"type": "rule", "color": "black", "strokeWidth": 1.2},
           "encoding": {"x": {"datum": 166}, "y": {"datum": 31.9}, "y2": {"datum": 28.6}}},
          {"data": {"name": "notes"}, "mark": {"type": "point", "shape": "triangle-down", "filled": true, "color": "black", "opacity": 1, "size": 50},
           "encoding": {"x": {"datum": 166}, "y": {"datum": 28.7}}}
        ]
      },
      {
        "layer": [
          {"data": {"name": "notes"}, "mark": {"type": "rect", "fillOpacity": 0, "stroke": "black", "strokeWidth": 1.2},
           "encoding": {"x": {"datum": 83.3}, "x2": {"datum": 424},
                        "y": {"datum": 32.8354, "type": "quantitative", "scale": {"domain": [32.805, 33.3285], "nice": false, "zero": false}, "axis": null},
                        "y2": {"datum": 33.221}}},
          {"data": {"name": "inset"}, "mark": {"type": "line", "color": "black", "strokeWidth": 1.5},
           "encoding": {"x": {"field": "t", "type": "quantitative"}, "y": {"field": "w", "type": "quantitative"}}},
          {"data": {"name": "insetY"}, "mark": {"type": "text", "align": "right", "baseline": "middle", "dx": -3, "fontSize": 6, "color": "#444", "font": "Liberation Sans"},
           "encoding": {"x": {"datum": 83.3}, "y": {"field": "w", "type": "quantitative"}, "text": {"field": "lab"}}},
          {"data": {"name": "insetX"}, "mark": {"type": "text", "align": "center", "baseline": "top", "dy": 3, "fontSize": 6, "color": "#444", "font": "Liberation Sans"},
           "encoding": {"x": {"field": "t", "type": "quantitative"}, "y": {"datum": 32.8354}, "text": {"field": "lab"}}},
          {"data": {"name": "notes"}, "mark": {"type": "text", "align": "left", "baseline": "middle", "fontSize": 18, "font": "Liberation Sans", "color": "black"},
           "encoding": {"x": {"datum": 100.8}, "y": {"datum": 33.156}, "text": {"field": "txt"}}}
        ]
      }
    ],
    "resolve": {"scale": {"y": "independent"}}
  },
  {
    "width": 1090, "height": 171,
    "layer": [
      {"data": {"name": "marks"}, "mark": {"type": "rule", "color": "black", "strokeWidth": 1, "strokeDash": [2, 2]},
       "encoding": {
         "x": {"field": "t", "type": "quantitative", "scale": {"domain": [0, 658], "nice": false, "zero": false},
               "axis": {"values": [100, 200, 300, 400, 500, 600], "tickCount": 60, "labels": false, "title": null}},
         "y": {"datum": -3780, "type": "quantitative", "scale": {"domain": [-3000, 3000], "nice": false},
               "axis": {"values": [-3000, -2000, -1000, 0, 1000, 2000, 3000], "tickCount": 60, "labelExpr": "'' + datum.value", "title": ["Струми Ia,Ib,Ic,", "А"]}},
         "y2": {"datum": 3000}}},
      {"data": {"name": "cur"}, "transform": [{"fold": ["a", "b", "c"], "as": ["ph", "I"]}],
       "mark": {"type": "line", "strokeWidth": 1.2},
       "encoding": {"x": {"field": "t", "type": "quantitative"}, "y": {"field": "I", "type": "quantitative"},
                    "color": {"field": "ph", "type": "nominal", "scale": {"domain": ["a", "b", "c"], "range": ["#ff0000", "#008000", "#00bfbf"]}, "legend": null}}}
    ]
  },
  {
    "width": 1090, "height": 158,
    "layer": [
      {"data": {"name": "marks"}, "mark": {"type": "rule", "color": "black", "strokeWidth": 1, "strokeDash": [2, 2]},
       "encoding": {
         "x": {"field": "t", "type": "quantitative", "scale": {"domain": [0, 658], "nice": false, "zero": false},
               "axis": {"values": [0, 100, 200, 300, 400, 500, 600], "tickCount": 60, "labelExpr": "'' + datum.value", "title": "Час моделювання t, с", "titleFont": "Liberation Sans", "titleFontSize": 22, "titlePadding": 4}},
         "y": {"datum": -40000, "type": "quantitative", "scale": {"domain": [-40000, 30000], "nice": false},
               "axis": {"values": [-40000, -30000, -20000, -10000, 0, 10000, 20000, 30000], "tickCount": 60, "labelExpr": "'' + datum.value", "title": ["Електромагнітний", "момент Me, Нм"]}},
         "y2": {"datum": 30000}}},
      {"data": {"name": "torque"}, "mark": {"type": "line", "color": "black", "strokeWidth": 1.2},
       "encoding": {"x": {"field": "t", "type": "quantitative"}, "y": {"field": "m", "type": "quantitative"}}},
      {"data": {"name": "boxes"}, "mark": {"type": "rect", "fill": "white", "stroke": "black", "strokeWidth": 1.2},
       "encoding": {"x": {"field": "x1", "type": "quantitative"}, "x2": {"field": "x2"}, "y": {"datum": -40000}, "y2": {"datum": -30000}}},
      {"data": {"name": "boxes"}, "mark": {"type": "text", "fontSize": 22, "font": "Liberation Sans", "baseline": "middle", "align": "center", "color": "black"},
       "encoding": {"x": {"field": "tm", "type": "quantitative"}, "y": {"datum": -35000}, "text": {"field": "lab"}}}
    ]
  }
]
}
